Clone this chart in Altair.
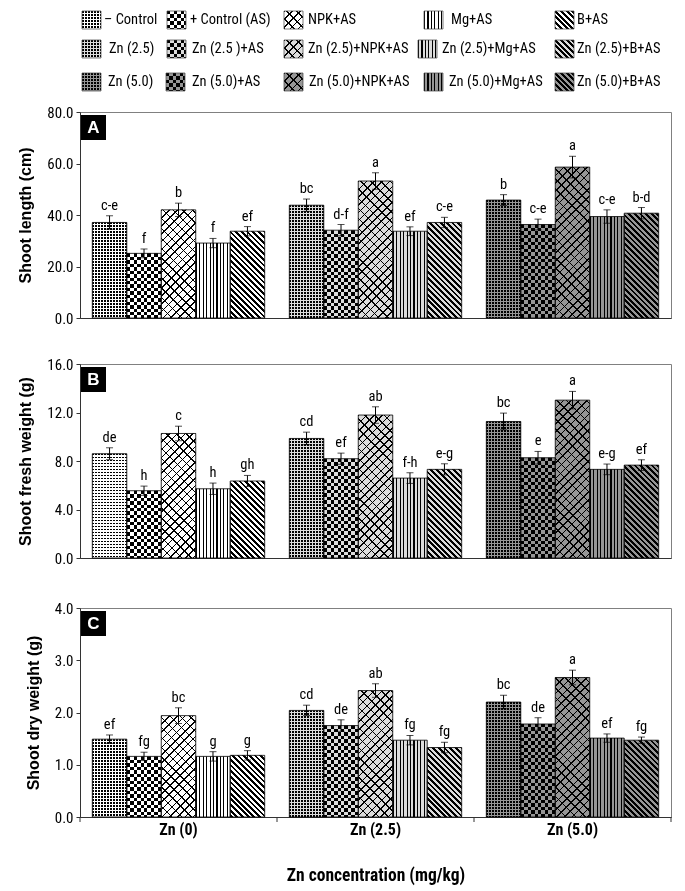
import math
import altair as alt
import pandas as pd

# ---------------- data ----------------
groups = ["Zn (0)", "Zn (2.5)", "Zn (5.0)"]
treatments = ["Control", "AS", "NPK+AS", "Mg+AS", "B+AS"]
series_labels = [
    ["– Control", "+ Control (AS)", "NPK+AS", "Mg+AS", "B+AS"],
    ["Zn (2.5)", "Zn (2.5 )+AS", "Zn (2.5)+NPK+AS", "Zn (2.5)+Mg+AS", "Zn (2.5)+B+AS"],
    ["Zn (5.0)", "Zn (5.0)+AS", "Zn (5.0)+NPK+AS", "Zn (5.0)+Mg+AS", "Zn (5.0)+B+AS"],
]

length_mean = [[37.1, 25.1, 42.0, 29.1, 33.7],
               [43.8, 34.1, 53.2, 33.7, 37.1],
               [45.8, 36.3, 58.6, 39.4, 40.7]]
length_se = [[2.6, 1.7, 2.6, 1.8, 1.8],
             [2.4, 2.2, 3.2, 1.7, 2.0],
             [2.1, 2.1, 4.2, 2.6, 2.2]]
length_letters = [["c-e", "f", "b", "f", "ef"],
                  ["bc", "d-f", "a", "ef", "c-e"],
                  ["b", "c-e", "a", "c-e", "b-d"]]

fresh_mean = [[8.60, 5.55, 10.27, 5.71, 6.35],
              [9.86, 8.19, 11.79, 6.59, 7.31],
              [11.26, 8.27, 13.02, 7.31, 7.66]]
fresh_se = [[0.49, 0.38, 0.60, 0.47, 0.46],
            [0.52, 0.46, 0.68, 0.44, 0.46],
            [0.69, 0.52, 0.72, 0.44, 0.44]]
fresh_letters = [["de", "h", "c", "h", "gh"],
                 ["cd", "ef", "ab", "f-h", "e-g"],
                 ["bc", "e", "a", "e-g", "ef"]]

dry_mean = [[1.49, 1.16, 1.94, 1.16, 1.18],
            [2.04, 1.75, 2.42, 1.47, 1.33],
            [2.20, 1.78, 2.67, 1.51, 1.47]]
dry_se = [[0.08, 0.08, 0.15, 0.09, 0.09],
          [0.10, 0.11, 0.13, 0.09, 0.10],
          [0.13, 0.12, 0.14, 0.08, 0.06]]
dry_letters = [["ef", "fg", "bc", "g", "g"],
               ["cd", "de", "ab", "fg", "fg"],
               ["bc", "de", "a", "ef", "fg"]]

# ---------------- styles ----------------
NARROW = "Roboto Condensed, DejaVu Sans Condensed, Liberation Sans, sans-serif"
SANS = "Liberation Sans, Arial, sans-serif"
LEVEL_BASE = ["#ffffff", "#dcdcdc", "#969696"]
TREAT_PATTERN = ["dots", "checks", "npk", "vlines", "diag"]
W = 591
PAD_IN, PAD_OUT = 0.125, 0.0625
STEP = W / (3 - PAD_IN + 2 * PAD_OUT)
BAR_W = STEP * (1 - PAD_IN) / 5


def stripes(direction, w, h, period, duty, dark, light):
    if direction == "v":
        x1, y1, x2, y2, L = 0, 0, 1, 0, w
    elif direction == "h":
        x1, y1, x2, y2, L = 0, 0, 0, 1, h
    elif direction == "\\":
        lam = (w + h) / (w * w + h * h)
        x1, y1, x2, y2 = 0, 1, lam * w, 1 - lam * h
        L = (w + h) / math.sqrt(2)
    else:
        lam = (w + h) / (w * w + h * h)
        x1, y1, x2, y2 = 0, 0, lam * w, lam * h
        L = (w + h) / math.sqrt(2)
    stops = []
    n = int(math.ceil(L / period))
    for k in range(n):
        s = min(1.0, k * period / L)
        m = min(1.0, (k + duty) * period / L)
        e = min(1.0, (k + 1) * period / L)
        stops += [{"offset": round(s, 5), "color": dark},
                  {"offset": round(m, 5), "color": dark},
                  {"offset": round(m, 5), "color": light},
                  {"offset": round(e, 5), "color": light}]
    return {"gradient": "linear", "x1": round(x1, 5), "y1": round(y1, 5),
            "x2": round(x2, 5), "y2": round(y2, 5), "stops": stops}


def pattern_fills(kind, base, w, h):
    out = []
    if kind == "dots":
        out.append((stripes("v", w, h, 3.0, 0.55, "#000000", "#ffffff"), None))
        out.append((stripes("h", w, h, 3.0, 0.55, "#000000", "#ffffff"), "lighten"))
        if base != "#ffffff":
            out.append((base, "multiply"))
    elif kind == "checks":
        out.append((stripes("v", w, h, 6.9, 0.5, "#000000", "#ffffff"), None))
        out.append((stripes("h", w, h, 6.9, 0.5, "#000000", "#ffffff"), "difference"))
        if base != "#ffffff":
            out.append((base, "multiply"))
    elif kind == "npk":
        out.append((stripes("/", w, h, 5.5, 0.2, "#000000", base), None))
        out.append((stripes("\\", w, h, 7.0, 0.14, "#000000", "rgba(0,0,0,0)"), None))
    elif kind == "vlines":
        out.append((stripes("v", w, h, 3.45, 0.32, "#000000", base), None))
    else:
        out.append((stripes("\\", w, h, 4.0, 0.5, "#000000", base), None))
    return out


# legend layout (pixels relative to panel A plot origin)
ORG_X, ORG_Y = 81, 114
LEG_SYM_X = [[83, 168, 285, 425, 556], [83, 168, 285, 419, 556], [83, 167, 285, 425, 556]]
LEG_TXT_X = [[105, 191, 309, 452, 578], [110, 193, 309, 443, 578], [109, 193, 310, 450, 578]]
LEG_SYM_Y = [13, 42, 75]
SYM_W, SYM_H = 19, 18


def legend_layers():
    layers = []
    for gi in range(3):
        for ti in range(5):
            sx = LEG_SYM_X[gi][ti] - ORG_X
            sy = LEG_SYM_Y[gi] - ORG_Y
            tx = LEG_TXT_X[gi][ti] - ORG_X
            one = pd.DataFrame({"label": [series_labels[gi][ti]]})
            for fill, blend in pattern_fills(TREAT_PATTERN[ti], LEVEL_BASE[gi], SYM_W, SYM_H):
                kw = {"fill": fill, "strokeWidth": 0}
                if blend:
                    kw["blend"] = blend
                layers.append(alt.Chart(one).mark_rect(**kw).encode(
                    x=alt.value(sx), x2=alt.value(sx + SYM_W),
                    y=alt.value(sy), y2=alt.value(sy + SYM_H)))
            layers.append(alt.Chart(one).mark_rect(fillOpacity=0, stroke="#444444", strokeWidth=0.7).encode(
                x=alt.value(sx), x2=alt.value(sx + SYM_W), y=alt.value(sy), y2=alt.value(sy + SYM_H)))
            layers.append(alt.Chart(one).mark_text(align="left", baseline="middle", font=NARROW,
                                                   fontSize=14.5, color="black").encode(
                x=alt.value(tx), y=alt.value(sy + SYM_H / 2), text="label:N"))
    return layers


def panel(mean, se, letters, ymax, ytitle, H, tag, bottom, with_legend):
    rows = []
    for gi, g in enumerate(groups):
        for ti, t in enumerate(treatments):
            rows.append({"group": g, "treat": t, "gi": gi, "ti": ti,
                         "mean": mean[gi][ti], "se": se[gi][ti], "letter": letters[gi][ti]})
    df = pd.DataFrame(rows)
    base = alt.Chart(df).transform_calculate(
        lo="datum.mean - datum.se", hi="datum.mean + datum.se")
    if bottom:
        xaxis = alt.Axis(title="Zn concentration (mg/kg)", labelAngle=0, ticks=False,
                         labelFont=NARROW, labelFontSize=16, labelFontWeight="bold",
                         labelPadding=4.5, titlePadding=28.5, titleFont=NARROW,
                         titleFontSize=17.5, titleFontWeight="bold")
    else:
        xaxis = alt.Axis(title=None, labels=False, ticks=False)
    x = alt.X("group:N", sort=groups, axis=xaxis,
              scale=alt.Scale(paddingInner=PAD_IN, paddingOuter=PAD_OUT))
    xo = alt.XOffset("treat:N", sort=treatments, scale=alt.Scale(paddingInner=0, paddingOuter=0))
    yscale = alt.Scale(domain=[0, ymax], nice=False, zero=True)
    yaxis = alt.Axis(title=ytitle, values=[ymax * i / 4 for i in range(5)], format=".1f",
                     tickSize=4, labelPadding=3, titlePadding=13)

    def Y(f):
        return alt.Y(f, type="quantitative", scale=yscale, axis=yaxis, stack=None)

    layers = []
    for gi in range(3):
        for ti in range(5):
            hpix = H * mean[gi][ti] / ymax
            for fill, blend in pattern_fills(TREAT_PATTERN[ti], LEVEL_BASE[gi], BAR_W, hpix):
                kw = {"fill": fill, "strokeWidth": 0}
                if blend:
                    kw["blend"] = blend
                layers.append(base.transform_filter(f"datum.gi == {gi} && datum.ti == {ti}")
                              .mark_bar(**kw).encode(x=x, xOffset=xo, y=Y("mean")))
    layers.append(base.mark_bar(fillOpacity=0, stroke="black", strokeWidth=0.8).encode(
        x=x, xOffset=xo, y=Y("mean")))
    layers.append(base.mark_rule(color="black", strokeWidth=1).encode(
        x=x, xOffset=xo, y=Y("lo"), y2=alt.Y2("hi")))
    layers.append(base.mark_tick(color="black", thickness=1, size=7).encode(
        x=x, xOffset=xo, y=Y("hi")))
    layers.append(base.mark_tick(color="black", thickness=1, size=7).encode(
        x=x, xOffset=xo, y=Y("lo")))
    layers.append(base.mark_text(font=NARROW, fontSize=14.5, baseline="bottom", dy=-3,
                                 color="black").encode(x=x, xOffset=xo, y=Y("hi"), text="letter:N"))
    tagdf = pd.DataFrame({"tag": [tag]})
    layers.append(alt.Chart(tagdf).mark_rect(color="black").encode(
        x=alt.value(1), x2=alt.value(26), y=alt.value(3), y2=alt.value(28)))
    layers.append(alt.Chart(tagdf).mark_text(color="white", font=SANS, fontWeight="bold",
                                             fontSize=17, baseline="middle", align="center").encode(
        x=alt.value(13.5), y=alt.value(16), text="tag:N"))
    if bottom:
        for k in range(4):
            layers.append(alt.Chart(tagdf).mark_rule(color="#333333").encode(
                x=alt.value(k * W / 3), y=alt.value(H), y2=alt.value(H + 5)))
    if with_legend:
        layers += legend_layers()
    return alt.layer(*layers).properties(width=W, height=H)


pA = panel(length_mean, length_se, length_letters, 80.0, "Shoot length (cm)", 206, "A", False, True)
pB = panel(fresh_mean, fresh_se, fresh_letters, 16.0, "Shoot fresh weight (g)", 194, "B", False, False)
pC = panel(dry_mean, dry_se, dry_letters, 4.0, "Shoot dry weight (g)", 209, "C", True, False)

top = alt.vconcat(pA, pB, spacing=29)
chart = alt.vconcat(top, pC, spacing=33).properties(
    padding={"left": 9, "top": 2, "right": 3, "bottom": 5}
).configure_view(stroke="#808080", strokeWidth=1).configure_axis(
    domainColor="#333333", tickColor="#333333", labelColor="black", titleColor="black",
    labelFont=NARROW, labelFontSize=15, titleFont=SANS, titleFontSize=16,
    titleFontWeight="bold", grid=False, zindex=1
)

chart.save("out.html", embed_options={"renderer": "svg", "actions": False})
